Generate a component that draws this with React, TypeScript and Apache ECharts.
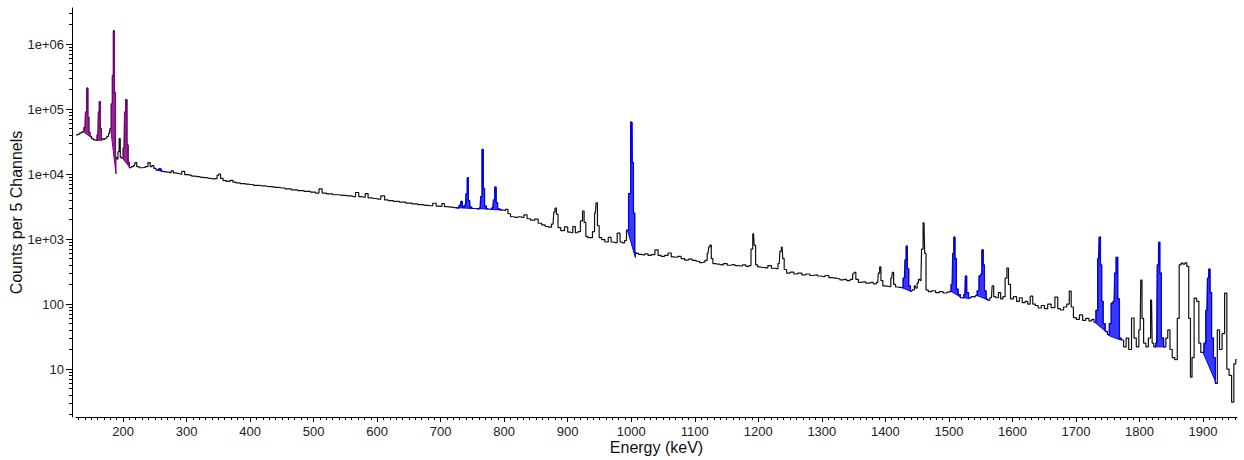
import React, { useEffect, useRef } from 'react';
import * as echarts from 'echarts';

// ---- axis ticks / labels ----
const xTickValues = [200, 300, 400, 500, 600, 700, 800, 900, 1000, 1100, 1200, 1300, 1400, 1500, 1600, 1700, 1800, 1900];
const yTickExponents = [1, 2, 3, 4, 5, 6];
const yTickLabels = ['10', '100', '1e+03', '1e+04', '1e+05', '1e+06'];
const yMinorMultipliers = [2, 3, 4, 5, 6, 7, 8, 9];

// ---- spectrum: [energy keV, counts per 5 channels] ----
const lowSpectrum: number[][] = [
  [126, 40000], [130, 41000], [134, 43000], [137, 45000], [140, 52000], [142, 90000], [143.8, 210000], [145.5, 75000],
  [147, 44000], [149, 38000], [152, 35000], [155, 33500], [158, 33000], [160.5, 40000], [162, 90000], [163.4, 130000],
  [165, 50000], [167, 35000], [170, 34000], [173, 35500], [176, 38000], [178.5, 42000], [180.5, 50000], [182.5, 120000],
  [184, 330000], [185.7, 1600000], [187.3, 180000], [189, 18000], [191, 17000], [193, 22000], [194.9, 35000], [196.5, 18000],
  [199, 17500], [201.5, 25000], [203.5, 90000], [205.3, 140000], [207, 28000], [209, 15000], [211, 12500], [215, 13000],
  [218, 13500], [220, 15000], [223, 13000], [228, 12500], [233, 12600], [237, 13000], [241.5, 15000], [244, 13000],
  [247, 13500], [250, 12200], [254, 11500], [258, 12000], [262, 11000], [266, 10800], [270, 10700], [274, 10500],
  [277.5, 11200], [281, 10400], [286, 10200], [290, 10000], [295, 11000], [299, 9800], [305, 9600], [311, 9300],
  [317, 9100], [323, 8900], [329, 8800], [335, 8600], [341, 8400], [346, 8500], [350, 9500], [352, 10000], [355, 8600],
  [360, 7900], [366, 7700], [371, 8000], [375, 7500], [381, 7300], [388, 7100], [394, 7000],
];
const midSpectrum: number[][] = [
  [400, 6900], [410, 6700], [420, 6550], [430, 6400], [440, 6250], [450, 6100], [460, 5900], [470, 5700], [480, 5550],
  [490, 5400], [500, 5250], [506, 5100], [511, 5900], [516, 5100], [525, 4950], [535, 4800], [545, 4700], [555, 4600],
  [563, 4500], [569, 5200], [573, 4500], [579, 4400], [583.5, 5000], [588, 4300], [595, 4200], [602, 4100], [609.5, 4600],
  [614, 4000], [621, 3900], [630, 3800], [640, 3700], [650, 3580], [660, 3470], [668, 3380], [676, 3300], [684, 3250],
  [691, 3550], [695, 3200], [700, 3170], [704, 3500], [708, 3150], [715, 3100], [722, 3050], [727, 3000], [731, 3300],
  [733, 3800], [735, 3100], [739, 3300], [741, 5000], [742.8, 8800], [744.5, 3900], [747, 3100], [751, 2950], [755, 2950],
  [759, 2900], [762, 3000], [764, 4500], [766.4, 24000], [768.2, 6000], [770, 3200], [774, 2900], [778, 2850], [782, 3000],
  [784.2, 4000], [786.3, 6300], [788.3, 3600], [791, 2900], [796, 2800], [800, 2750], [804, 2850], [808, 2450], [812, 2200],
  [818, 2150], [823, 2200], [828, 2150], [834, 2350], [838, 2050], [845, 1950], [851, 2030], [856, 1750], [862, 1650],
  [867, 1560], [872, 1520], [877, 1700], [879, 2600], [881, 3000], [883.5, 2400], [886, 1500], [892, 1350], [898, 1540],
  [902, 1280], [906, 1250], [910, 1550], [914, 1250], [918, 1300], [922, 1900], [924.6, 2700], [927, 1800], [930, 1100],
  [933, 1050], [937, 1050], [941, 1300], [943.5, 2500], [945.6, 3600], [948, 1600], [951, 1050], [956, 980], [961, 900],
  [966.6, 1060], [970, 900], [975, 880], [980.7, 1230], [984, 900], [988, 870], [991, 950], [994, 1370], [997.5, 5000],
  [1000.5, 63000], [1002.5, 15000], [1004.5, 2500], [1006.5, 620],
];
const highSpectrum: number[][] = [
  [1009, 600], [1014, 580], [1019, 570], [1024, 590], [1029, 560], [1034, 575], [1040.5, 680], [1044, 560], [1050, 540],
  [1055, 560], [1061, 610], [1065, 530], [1070, 525], [1076, 540], [1081, 500], [1087, 475], [1093, 490], [1099, 470],
  [1105, 455], [1110, 435], [1114, 440], [1118, 470], [1121, 600], [1123, 760], [1125, 810], [1127, 500], [1130, 420],
  [1136, 410], [1142, 400], [1148, 420], [1154, 395], [1160, 405], [1166, 390], [1172, 385], [1178, 400], [1183, 380],
  [1187, 390], [1190, 700], [1192.5, 1200], [1194.5, 800], [1197, 400], [1201, 372], [1206, 365], [1212, 360], [1218, 390],
  [1223, 355], [1229, 350], [1233, 420], [1235, 650], [1237.5, 750], [1239.5, 500], [1242, 340], [1247, 300], [1253, 310],
  [1259, 290], [1265, 300], [1272, 280], [1278, 290], [1284, 275], [1290, 280], [1296, 270], [1302, 265], [1308, 275],
  [1314, 255], [1320, 250], [1326, 245], [1331, 235], [1336, 240], [1342, 230], [1347, 240], [1350, 290], [1352, 307],
  [1355, 240], [1360, 215], [1366, 220], [1372, 210], [1378, 215], [1384, 205], [1388, 215], [1390, 300], [1392, 372],
  [1394, 230], [1398, 190], [1402, 188], [1407, 185], [1410, 250], [1412, 307], [1414, 200], [1418, 183], [1422, 180],
  [1426, 178], [1430, 250], [1432, 480], [1433.6, 780], [1435.5, 350], [1438, 190], [1441, 160], [1444, 165], [1447, 190],
  [1449, 175], [1451, 210], [1453, 240], [1456, 230], [1458, 700], [1460.8, 1780], [1463, 600], [1465, 165], [1470, 155],
  [1476, 160], [1482, 150], [1488, 155], [1494, 148], [1500, 152],
];
const topSpectrum: number[][] = [
  [1502, 155], [1505, 200], [1507, 600], [1508.6, 1070], [1510.5, 500], [1513, 170], [1516, 140], [1520, 125], [1522, 125],
  [1525, 140], [1527, 270], [1529, 150], [1533, 125], [1537, 130], [1541, 128], [1543, 135], [1546, 160], [1549, 270],
  [1551, 285], [1553, 680], [1555, 400], [1557, 160], [1560, 120], [1562, 115], [1567, 125], [1569, 190], [1572, 130],
  [1576, 125], [1580, 150], [1583, 120], [1587, 130], [1590, 250], [1592.6, 357], [1595, 200], [1599, 120], [1604, 130],
  [1609, 110], [1613, 125], [1618, 105], [1622, 110], [1626, 100], [1630, 132], [1634, 100], [1638, 95], [1643, 87],
  [1648, 95], [1653, 85], [1658, 100], [1664, 88], [1669.7, 128], [1673, 85], [1678, 81], [1683, 90], [1688, 100],
  [1691, 158], [1694, 90], [1698, 62], [1703, 58], [1708, 68], [1713, 56], [1718, 60], [1723, 55], [1727, 58], [1730, 52],
  [1733, 80], [1735.5, 500], [1737.7, 1070], [1739.5, 400], [1741.5, 110], [1744, 50], [1748, 38], [1751, 34], [1754, 50],
  [1757, 103], [1760, 110], [1762, 300], [1764.5, 525], [1767, 120], [1770, 30], [1773, 28], [1777, 22], [1781, 30],
  [1785, 20], [1790, 61], [1793, 30], [1797, 22], [1801, 40], [1803, 233], [1805, 60], [1808, 25], [1812, 22], [1816, 30],
  [1819, 115], [1821, 25], [1824, 22], [1827, 25], [1829, 400], [1831, 890], [1833, 300], [1836, 30], [1840, 22], [1843, 30],
  [1846, 40], [1850, 20], [1853, 15], [1858, 14], [1861, 60], [1864, 400], [1867, 427], [1870, 410], [1873, 430], [1876, 380],
  [1879, 60], [1881.5, 7.5], [1884, 15], [1888, 123], [1892, 110], [1895, 25], [1898, 18], [1900, 18], [1903, 25], [1906, 80],
  [1908, 250], [1910, 345], [1912, 150], [1915, 30], [1918, 15], [1921, 6], [1924, 40], [1928, 20], [1932, 35], [1936, 147],
  [1939, 10], [1943, 8], [1947, 3.1], [1950, 12], [1953, 14],
];

// ---- peak regions: [start keV, end keV, baseline counts at start, baseline counts at end] ----
const blueRegions: number[][] = [
  [254, 262, 11500, 11000], [722, 751, 3050, 2950], [755, 774, 2950, 2900], [778, 796, 2850, 2800],
  [994, 1006.5, 1370, 520], [1426, 1441, 180, 155], [1502, 1520, 160, 125], [1522, 1533, 125, 122],
  [1543, 1562, 137, 115], [1730, 1748, 52, 37], [1751, 1770, 33, 28], [1824, 1840, 22, 22], [1900, 1921, 18, 6],
];
const purpleRegions: number[][] = [
  [137, 149, 45000, 37000], [158, 167, 33000, 33000], [180.5, 189, 50000, 10000], [199, 211, 17500, 12500],
];

const FONT = '"Liberation Sans", Arial, Helvetica, sans-serif';

export default function App() {
  const ref = useRef<HTMLDivElement>(null);
  useEffect(() => {
    document.body.style.margin = '0';
    const chart = echarts.init(ref.current as HTMLDivElement, null, { renderer: 'svg' });
    const lg = (c: number) => Math.log10(c);
    const spectrum = [...lowSpectrum, ...midSpectrum, ...highSpectrum, ...topSpectrum];
    const lineData = spectrum.map(([e, c]) => [e, lg(c)]);
    const yMin = lg(1.83);
    const yMax = lg(3.58e6);
    const xMin = 126;
    const xMax = 1953.5;

    const yMinor: number[] = [];
    for (let d = 0; d <= 6; d++) {
      yMinorMultipliers.forEach((k) => {
        const v = lg(k * Math.pow(10, d));
        if (v >= yMin && v <= yMax) yMinor.push(v);
      });
    }
    const xMinor: number[] = [];
    for (let e = 130; e <= 1950; e += 10) xMinor.push(e);

    const regionSeries = (regions: number[][], fill: string, stroke: string) => ({
      type: 'custom',
      xAxisIndex: 0,
      yAxisIndex: 0,
      z: 5,
      silent: true,
      data: regions.map((r) => [r[0], lg(r[2])]),
      renderItem: (params: any, api: any) => {
        const r = regions[params.dataIndex];
        const pts = spectrum.filter((p) => p[0] >= r[0] && p[0] <= r[1]);
        const poly: number[][] = [];
        pts.forEach((p, i) => {
          if (i > 0) {
            const prev = pts[i - 1];
            const mid = (prev[0] + p[0]) / 2;
            poly.push(api.coord([mid, lg(prev[1])]));
            poly.push(api.coord([mid, lg(p[1])]));
          }
          poly.push(api.coord([p[0], lg(p[1])]));
        });
        poly.push(api.coord([r[1], lg(r[3])]));
        poly.push(api.coord([r[0], lg(r[2])]));
        return {
          type: 'polygon',
          shape: { points: poly },
          style: { fill, stroke, lineWidth: 1 },
        };
      },
    });

    const axisColor = '#000';
    chart.setOption({
      animation: false,
      textStyle: { fontFamily: FONT },
      grid: { left: 76, right: 7, top: 8, bottom: 43, containLabel: false, outerBoundsMode: 'none' },
      xAxis: [
        {
          type: 'value',
          min: xMin,
          max: xMax,
          position: 'bottom',
          name: 'Energy (keV)',
          nameLocation: 'middle',
          nameGap: 22,
          nameMoveOverlap: false,
          nameTextStyle: { fontSize: 16, color: '#111', fontFamily: FONT },
          axisLine: { show: true, lineStyle: { color: axisColor, width: 1 } },
          axisTick: { show: true, length: 5, customValues: xTickValues, lineStyle: { color: axisColor } },
          axisLabel: {
            customValues: xTickValues,
            fontSize: 13,
            color: '#222',
            margin: 8,
            fontFamily: FONT,
            formatter: (v: number) => String(Math.round(v)),
          },
          splitLine: { show: false },
        },
        {
          type: 'value',
          min: xMin,
          max: xMax,
          position: 'bottom',
          axisLine: { show: false },
          axisTick: { show: true, length: 3, customValues: xMinor, lineStyle: { color: axisColor } },
          axisLabel: { show: false },
          splitLine: { show: false },
        },
      ],
      yAxis: [
        {
          type: 'value',
          min: yMin,
          max: yMax,
          position: 'left',
          offset: 4,
          name: 'Counts per 5 Channels',
          nameLocation: 'middle',
          nameGap: 48,
          nameMoveOverlap: false,
          nameRotate: 90,
          nameTextStyle: { fontSize: 16, color: '#111', fontFamily: FONT },
          axisLine: { show: true, lineStyle: { color: axisColor, width: 1 } },
          axisTick: { show: true, length: 6, customValues: yTickExponents, lineStyle: { color: axisColor } },
          axisLabel: {
            customValues: yTickExponents,
            fontSize: 13,
            color: '#222',
            margin: 8,
            fontFamily: FONT,
            formatter: (v: number) => {
              const i = yTickExponents.indexOf(Math.round(v));
              return i >= 0 ? yTickLabels[i] : '';
            },
          },
          splitLine: { show: false },
        },
        {
          type: 'value',
          min: yMin,
          max: yMax,
          position: 'left',
          offset: 4,
          axisLine: { show: false },
          axisTick: { show: true, length: 3, customValues: yMinor, lineStyle: { color: axisColor } },
          axisLabel: { show: false },
          splitLine: { show: false },
        },
      ],
      series: [
        {
          type: 'line',
          name: 'spectrum',
          data: lineData,
          step: 'middle',
          showSymbol: false,
          symbol: 'none',
          lineStyle: { color: '#111', width: 1.2 },
          z: 3,
          silent: true,
        },
        regionSeries(blueRegions, 'rgba(0,0,255,0.78)', '#0000ff'),
        regionSeries(purpleRegions, 'rgba(128,0,128,0.85)', '#800080'),
      ],
    });
    return () => chart.dispose();
  }, []);
  return <div ref={ref} style={{ width: 1244, height: 460 }} />;
}
